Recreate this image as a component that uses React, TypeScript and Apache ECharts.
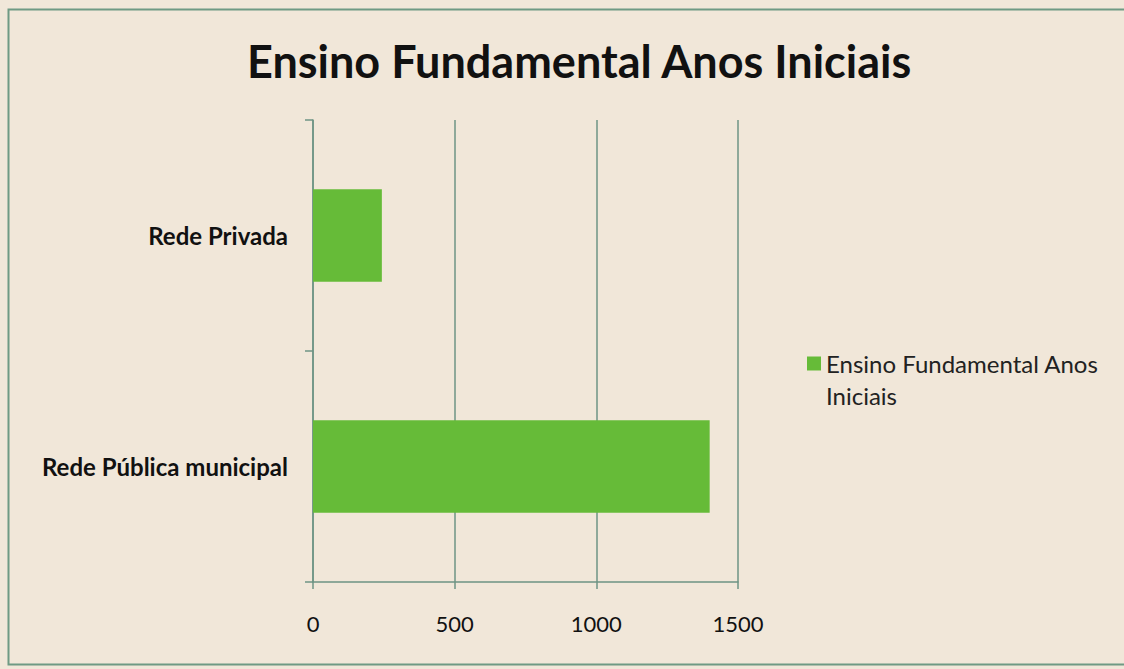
import React, { useEffect, useRef } from "react";
import * as echarts from "echarts";

const categories = ["Rede Pública municipal", "Rede Privada"];
const values = [1400, 243];
const xTicks = [0, 500, 1000, 1500];
const seriesName = "Ensino Fundamental Anos Iniciais";
const titleText = "Ensino Fundamental Anos Iniciais";
const legendLine1 = "Ensino Fundamental Anos";
const legendLine2 = "Iniciais";

export default function App() {
  const ref = useRef<HTMLDivElement>(null);
  useEffect(() => {
    document.body.style.margin = "0";
    const chart = echarts.init(ref.current!, null, { renderer: "svg" });
    const axisColor = "#6e9484";
    chart.setOption({
      animation: false,
      backgroundColor: "#f1e7d9",
      title: {
        text: titleText,
        left: 242,
        top: 33,
        textStyle: { fontFamily: "Lato", fontWeight: "bold", fontSize: 45, color: "#111" },
      },
      graphic: [
        {
          type: "rect",
          shape: { x: 8.5, y: 9.5, width: 1130, height: 655 },
          style: { fill: "none", stroke: "#6f9a84", lineWidth: 2 },
          silent: true,
        },
        {
          type: "text",
          x: 826,
          y: 395,
          style: {
            text: legendLine2,
            fontFamily: "Lato",
            fontSize: 24,
            fill: "#222",
            verticalAlign: "middle",
            align: "left",
          },
          silent: true,
        },
      ],
      legend: {
        left: 802,
        top: 343,
        itemWidth: 14,
        itemHeight: 14,
        icon: "rect",
        formatter: () => legendLine1,
        textStyle: {
          fontFamily: "Lato",
          fontSize: 24,
          color: "#222",
          lineHeight: 31,
        },
        itemGap: 4,
      },
      grid: { left: 313, right: 386, top: 120, bottom: 87, containLabel: false },
      xAxis: {
        type: "value",
        min: 0,
        max: 1500,
        interval: 500,
        axisLine: { show: true, lineStyle: { color: axisColor, width: 1.5 } },
        axisTick: { show: true, length: 7, lineStyle: { color: axisColor, width: 1.5 } },
        splitLine: { show: true, lineStyle: { color: axisColor, width: 1.5 } },
        axisLabel: {
          margin: 30,
          fontFamily: "Lato",
          fontSize: 22,
          color: "#111",
          formatter: (v: number) => (xTicks.includes(v) ? String(v) : ""),
        },
      },
      yAxis: {
        type: "category",
        data: categories,
        axisLine: { show: true, lineStyle: { color: axisColor, width: 1.5 } },
        axisTick: { show: true, length: 8, lineStyle: { color: axisColor, width: 1.5 } },
        axisLabel: {
          margin: 25,
          fontFamily: "Lato",
          fontSize: 24,
          fontWeight: "bold",
          color: "#111",
        },
      },
      series: [
        {
          name: seriesName,
          type: "bar",
          data: values,
          barWidth: "40%",
          itemStyle: { color: "#66bb38" },
        },
      ],
    });
    return () => chart.dispose();
  }, []);
  return <div ref={ref} style={{ width: 1124, height: 669 }} />;
}
